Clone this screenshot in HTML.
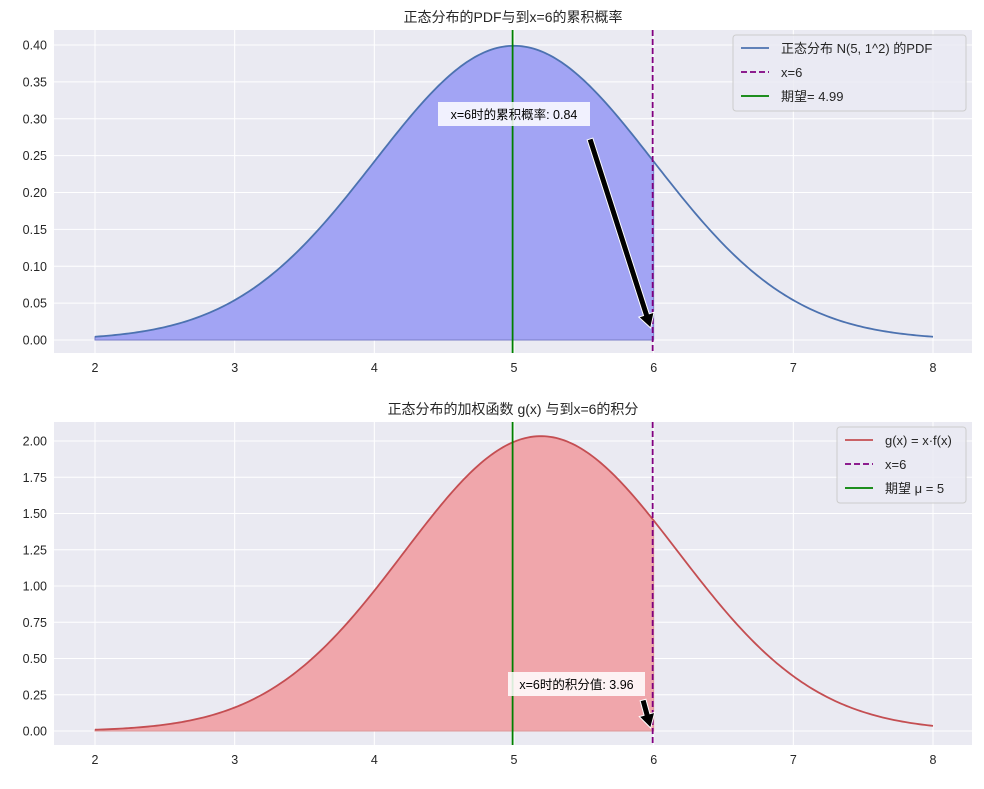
<!DOCTYPE html>
<html><head><meta charset="utf-8"><style>
body{margin:0;background:#fff;}
svg text{font-family:"Liberation Sans","Noto Sans CJK SC",sans-serif;}
</style></head><body>
<svg id="c" width="984" height="784" xmlns="http://www.w3.org/2000/svg"></svg>
<script>
const xTicks=[2,3,4,5,6,7,8];
const topYTicks=[0,0.05,0.10,0.15,0.20,0.25,0.30,0.35,0.40];
const botYTicks=[0,0.25,0.5,0.75,1.0,1.25,1.5,1.75,2.0];
const normMu=[5];
const normSigma=[1];
const xRange=[2,8];
const cutoff=[6];
const meanTop=[4.99];
const meanBot=[5];
const cdfVal=[0.84];
const integralVal=[3.96];

const NS="http://www.w3.org/2000/svg";
const svg=document.getElementById('c');
function el(t,a,p){const e=document.createElementNS(NS,t);for(const k in a)e.setAttribute(k,a[k]);(p||svg).appendChild(e);return e;}
function pdf(x){const m=normMu[0],s=normSigma[0];return Math.exp(-(x-m)*(x-m)/(2*s*s))/(s*Math.sqrt(2*Math.PI));}
const X=v=>95+(v-2)*(933-95)/6;

function panel(opt){
  const g=el('g',{});
  
  
  const L=54,R=972,T=opt.top,B=opt.bottom;
  const Y=v=>opt.y0+(v)*opt.ys;
  el('rect',{x:L,y:T,width:R-L,height:B-T,fill:'#eaeaf2'},g);
  xTicks.forEach(t=>{el('line',{x1:X(t),x2:X(t),y1:T,y2:B,stroke:'#fff','stroke-width':1},g);
    const tx=el('text',{x:X(t),y:B+19,'text-anchor':'middle','font-size':12.5,fill:'#262626'},g);tx.textContent=t;
    });
  opt.yt.forEach(t=>{el('line',{x1:L,x2:R,y1:Y(t),y2:Y(t),stroke:'#fff','stroke-width':1},g);
    const tx=el('text',{x:L-7,y:Y(t)+4.5,'text-anchor':'end','font-size':12.5,fill:'#262626'},g);tx.textContent=t.toFixed(2);
    });
  const N=300;let pts=[],fill=[];
  for(let i=0;i<=N;i++){const x=xRange[0]+(xRange[1]-xRange[0])*i/N;const y=opt.f(x);pts.push(X(x).toFixed(2)+','+Y(y).toFixed(2));
    if(x<=cutoff[0]+1e-9)fill.push(X(x).toFixed(2)+','+Y(y).toFixed(2));}
  fill.push(X(cutoff[0])+','+Y(opt.f(cutoff[0])));
  const fp=el('polygon',{points:fill.join(' ')+' '+X(cutoff[0])+','+Y(0)+' '+X(xRange[0])+','+Y(0),fill:opt.fill,stroke:opt.fillEdge,'stroke-width':1},g);
  
  const pl=el('polyline',{points:pts.join(' '),fill:'none',stroke:opt.color,'stroke-width':1.8},g);
  
  const vl=el('line',{x1:X(cutoff[0])-1,x2:X(cutoff[0])-1,y1:T,y2:B,stroke:'#800080','stroke-width':1.8,'stroke-dasharray':'6,3'},g);
  
  const ml=el('line',{x1:X(opt.mean),x2:X(opt.mean),y1:T,y2:B,stroke:'#008000','stroke-width':1.8},g);
  
  const ti=el('text',{x:(L+R)/2,y:T-8,'text-anchor':'middle','font-size':14,fill:'#262626'},g);ti.textContent=opt.title;
  
  const a=opt.ann;
  el('rect',{x:a.bx,y:a.by,width:a.bw,height:24,fill:'#fff','fill-opacity':0.85},g);
  const at=el('text',{x:a.bx+a.bw/2,y:a.by+17,'text-anchor':'middle','font-size':12.5,fill:'#000'},g);at.textContent=a.text;
  
  const tx2=X(cutoff[0])-3,ty2=Y(0)-a.lift;
  const dx=tx2-a.sx,dy=ty2-a.sy,len=Math.hypot(dx,dy),ux=dx/len,uy=dy/len,px=-uy,py=ux;
  const hl=14,w=3,hw=8;
  const bx=tx2-ux*hl,by=ty2-uy*hl;
  const ar=el('polygon',{points:[[a.sx+px*w,a.sy+py*w],[bx+px*w,by+py*w],[bx+px*hw,by+py*hw],[tx2,ty2],[bx-px*hw,by-py*hw],[bx-px*w,by-py*w],[a.sx-px*w,a.sy-py*w]].map(p=>p.join(',')).join(' '),fill:'#000',stroke:'#fff','stroke-width':1},g);
  
  const lg=opt.leg;const lgg=el('g',{},g);
  
  el('rect',{x:lg.x,y:lg.y,width:lg.w,height:76,rx:3,fill:'#eaeaf2',stroke:'#ccc','fill-opacity':0.8},lgg);
  const items=[[opt.color,'',opt.labels[0]],['#800080','6,3',opt.labels[1]],['#008000','',opt.labels[2]]];
  items.forEach((it,i)=>{const yy=lg.y+13+i*24;
    el('line',{x1:lg.x+8,x2:lg.x+36,y1:yy,y2:yy,stroke:it[0],'stroke-width':1.8,'stroke-dasharray':it[1]||'none'},lgg);
    const t=el('text',{x:lg.x+48,y:yy+5,'font-size':13,fill:'#262626'},lgg);t.textContent=it[2];
    });
}
panel({name:'pdf-panel',top:30,bottom:353,y0:340,ys:-(340-45)/0.4,yt:topYTicks,f:pdf,color:'#4c72b0',fill:'#a2a4f4',fillEdge:'#7a7ec8',
  mean:meanTop[0],title:'正态分布的PDF与到x=6的累积概率',
  ann:{bx:438,by:102,bw:152,sx:590,sy:139,lift:12,text:'x=6时的累积概率: '+cdfVal[0].toFixed(2)},
  leg:{x:733,y:35,w:233},labels:['正态分布 N(5, 1^2) 的PDF','x=6','期望= '+meanTop[0]]});
panel({name:'weighted-panel',top:422,bottom:745,y0:731,ys:-(731-441)/2,yt:botYTicks,f:x=>x*pdf(x),color:'#c44e52',fill:'#f0a6ab',fillEdge:'#d99',
  mean:meanBot[0]-0.01,title:'正态分布的加权函数 g(x) 与到x=6的积分',
  ann:{bx:508,by:672,bw:137,sx:643,sy:700,lift:3,text:'x=6时的积分值: '+integralVal[0].toFixed(2)},
  leg:{x:837,y:427,w:129},labels:['g(x) = x·f(x)','x=6','期望 μ = '+meanBot[0]]});
</script>
</body></html>
